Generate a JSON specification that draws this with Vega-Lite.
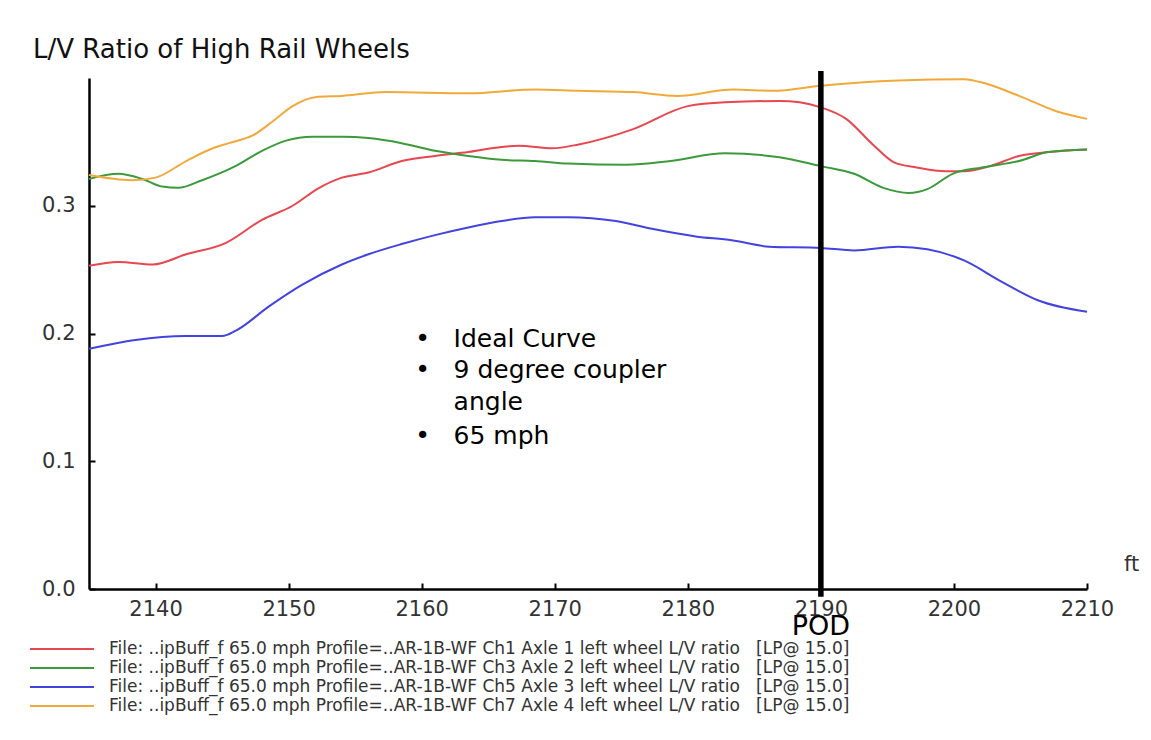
{
  "$schema": "https://vega.github.io/schema/vega-lite/v6.json",
  "width": 998,
  "height": 511,
  "autosize": {"type": "none"},
  "padding": {"left": 89, "top": 78, "right": 64, "bottom": 151},
  "background": "white",
  "config": {"view": {"stroke": null}, "font": "DejaVu Sans"},
  "title": {"text": "L/V Ratio of High Rail Wheels", "anchor": "start", "frame": "group", "dx": -56, "dy": 27, "offset": 11, "fontSize": 26, "fontWeight": "normal", "color": "#111", "baseline": "alphabetic"},
  "datasets": {
    "series": [
      {"s": "File: ..ipBuff_f 65.0 mph Profile=..AR-1B-WF Ch1 Axle 1 left wheel L/V ratio\u00a0\u00a0\u00a0[LP@ 15.0]", "ft": 2135.0, "v": 0.253},
      {"s": "File: ..ipBuff_f 65.0 mph Profile=..AR-1B-WF Ch1 Axle 1 left wheel L/V ratio\u00a0\u00a0\u00a0[LP@ 15.0]", "ft": 2137.2, "v": 0.256},
      {"s": "File: ..ipBuff_f 65.0 mph Profile=..AR-1B-WF Ch1 Axle 1 left wheel L/V ratio\u00a0\u00a0\u00a0[LP@ 15.0]", "ft": 2139.8, "v": 0.254},
      {"s": "File: ..ipBuff_f 65.0 mph Profile=..AR-1B-WF Ch1 Axle 1 left wheel L/V ratio\u00a0\u00a0\u00a0[LP@ 15.0]", "ft": 2142.3, "v": 0.262},
      {"s": "File: ..ipBuff_f 65.0 mph Profile=..AR-1B-WF Ch1 Axle 1 left wheel L/V ratio\u00a0\u00a0\u00a0[LP@ 15.0]", "ft": 2145.3, "v": 0.271},
      {"s": "File: ..ipBuff_f 65.0 mph Profile=..AR-1B-WF Ch1 Axle 1 left wheel L/V ratio\u00a0\u00a0\u00a0[LP@ 15.0]", "ft": 2148.0, "v": 0.289},
      {"s": "File: ..ipBuff_f 65.0 mph Profile=..AR-1B-WF Ch1 Axle 1 left wheel L/V ratio\u00a0\u00a0\u00a0[LP@ 15.0]", "ft": 2150.3, "v": 0.300},
      {"s": "File: ..ipBuff_f 65.0 mph Profile=..AR-1B-WF Ch1 Axle 1 left wheel L/V ratio\u00a0\u00a0\u00a0[LP@ 15.0]", "ft": 2152.3, "v": 0.314},
      {"s": "File: ..ipBuff_f 65.0 mph Profile=..AR-1B-WF Ch1 Axle 1 left wheel L/V ratio\u00a0\u00a0\u00a0[LP@ 15.0]", "ft": 2154.0, "v": 0.322},
      {"s": "File: ..ipBuff_f 65.0 mph Profile=..AR-1B-WF Ch1 Axle 1 left wheel L/V ratio\u00a0\u00a0\u00a0[LP@ 15.0]", "ft": 2156.0, "v": 0.326},
      {"s": "File: ..ipBuff_f 65.0 mph Profile=..AR-1B-WF Ch1 Axle 1 left wheel L/V ratio\u00a0\u00a0\u00a0[LP@ 15.0]", "ft": 2158.5, "v": 0.335},
      {"s": "File: ..ipBuff_f 65.0 mph Profile=..AR-1B-WF Ch1 Axle 1 left wheel L/V ratio\u00a0\u00a0\u00a0[LP@ 15.0]", "ft": 2161.0, "v": 0.339},
      {"s": "File: ..ipBuff_f 65.0 mph Profile=..AR-1B-WF Ch1 Axle 1 left wheel L/V ratio\u00a0\u00a0\u00a0[LP@ 15.0]", "ft": 2163.5, "v": 0.342},
      {"s": "File: ..ipBuff_f 65.0 mph Profile=..AR-1B-WF Ch1 Axle 1 left wheel L/V ratio\u00a0\u00a0\u00a0[LP@ 15.0]", "ft": 2166.0, "v": 0.346},
      {"s": "File: ..ipBuff_f 65.0 mph Profile=..AR-1B-WF Ch1 Axle 1 left wheel L/V ratio\u00a0\u00a0\u00a0[LP@ 15.0]", "ft": 2167.3, "v": 0.347},
      {"s": "File: ..ipBuff_f 65.0 mph Profile=..AR-1B-WF Ch1 Axle 1 left wheel L/V ratio\u00a0\u00a0\u00a0[LP@ 15.0]", "ft": 2169.8, "v": 0.345},
      {"s": "File: ..ipBuff_f 65.0 mph Profile=..AR-1B-WF Ch1 Axle 1 left wheel L/V ratio\u00a0\u00a0\u00a0[LP@ 15.0]", "ft": 2171.8, "v": 0.348},
      {"s": "File: ..ipBuff_f 65.0 mph Profile=..AR-1B-WF Ch1 Axle 1 left wheel L/V ratio\u00a0\u00a0\u00a0[LP@ 15.0]", "ft": 2175.9, "v": 0.360},
      {"s": "File: ..ipBuff_f 65.0 mph Profile=..AR-1B-WF Ch1 Axle 1 left wheel L/V ratio\u00a0\u00a0\u00a0[LP@ 15.0]", "ft": 2180.0, "v": 0.378},
      {"s": "File: ..ipBuff_f 65.0 mph Profile=..AR-1B-WF Ch1 Axle 1 left wheel L/V ratio\u00a0\u00a0\u00a0[LP@ 15.0]", "ft": 2182.8, "v": 0.381},
      {"s": "File: ..ipBuff_f 65.0 mph Profile=..AR-1B-WF Ch1 Axle 1 left wheel L/V ratio\u00a0\u00a0\u00a0[LP@ 15.0]", "ft": 2186.9, "v": 0.382},
      {"s": "File: ..ipBuff_f 65.0 mph Profile=..AR-1B-WF Ch1 Axle 1 left wheel L/V ratio\u00a0\u00a0\u00a0[LP@ 15.0]", "ft": 2188.4, "v": 0.381},
      {"s": "File: ..ipBuff_f 65.0 mph Profile=..AR-1B-WF Ch1 Axle 1 left wheel L/V ratio\u00a0\u00a0\u00a0[LP@ 15.0]", "ft": 2190.0, "v": 0.377},
      {"s": "File: ..ipBuff_f 65.0 mph Profile=..AR-1B-WF Ch1 Axle 1 left wheel L/V ratio\u00a0\u00a0\u00a0[LP@ 15.0]", "ft": 2191.9, "v": 0.368},
      {"s": "File: ..ipBuff_f 65.0 mph Profile=..AR-1B-WF Ch1 Axle 1 left wheel L/V ratio\u00a0\u00a0\u00a0[LP@ 15.0]", "ft": 2193.9, "v": 0.348},
      {"s": "File: ..ipBuff_f 65.0 mph Profile=..AR-1B-WF Ch1 Axle 1 left wheel L/V ratio\u00a0\u00a0\u00a0[LP@ 15.0]", "ft": 2195.5, "v": 0.334},
      {"s": "File: ..ipBuff_f 65.0 mph Profile=..AR-1B-WF Ch1 Axle 1 left wheel L/V ratio\u00a0\u00a0\u00a0[LP@ 15.0]", "ft": 2197.2, "v": 0.330},
      {"s": "File: ..ipBuff_f 65.0 mph Profile=..AR-1B-WF Ch1 Axle 1 left wheel L/V ratio\u00a0\u00a0\u00a0[LP@ 15.0]", "ft": 2199.4, "v": 0.327},
      {"s": "File: ..ipBuff_f 65.0 mph Profile=..AR-1B-WF Ch1 Axle 1 left wheel L/V ratio\u00a0\u00a0\u00a0[LP@ 15.0]", "ft": 2200.8, "v": 0.327},
      {"s": "File: ..ipBuff_f 65.0 mph Profile=..AR-1B-WF Ch1 Axle 1 left wheel L/V ratio\u00a0\u00a0\u00a0[LP@ 15.0]", "ft": 2202.7, "v": 0.331},
      {"s": "File: ..ipBuff_f 65.0 mph Profile=..AR-1B-WF Ch1 Axle 1 left wheel L/V ratio\u00a0\u00a0\u00a0[LP@ 15.0]", "ft": 2204.9, "v": 0.339},
      {"s": "File: ..ipBuff_f 65.0 mph Profile=..AR-1B-WF Ch1 Axle 1 left wheel L/V ratio\u00a0\u00a0\u00a0[LP@ 15.0]", "ft": 2207.1, "v": 0.342},
      {"s": "File: ..ipBuff_f 65.0 mph Profile=..AR-1B-WF Ch1 Axle 1 left wheel L/V ratio\u00a0\u00a0\u00a0[LP@ 15.0]", "ft": 2210.0, "v": 0.344},

      {"s": "File: ..ipBuff_f 65.0 mph Profile=..AR-1B-WF Ch3 Axle 2 left wheel L/V ratio\u00a0\u00a0\u00a0[LP@ 15.0]", "ft": 2135.0, "v": 0.321},
      {"s": "File: ..ipBuff_f 65.0 mph Profile=..AR-1B-WF Ch3 Axle 2 left wheel L/V ratio\u00a0\u00a0\u00a0[LP@ 15.0]", "ft": 2137.2, "v": 0.325},
      {"s": "File: ..ipBuff_f 65.0 mph Profile=..AR-1B-WF Ch3 Axle 2 left wheel L/V ratio\u00a0\u00a0\u00a0[LP@ 15.0]", "ft": 2139.0, "v": 0.321},
      {"s": "File: ..ipBuff_f 65.0 mph Profile=..AR-1B-WF Ch3 Axle 2 left wheel L/V ratio\u00a0\u00a0\u00a0[LP@ 15.0]", "ft": 2140.5, "v": 0.315},
      {"s": "File: ..ipBuff_f 65.0 mph Profile=..AR-1B-WF Ch3 Axle 2 left wheel L/V ratio\u00a0\u00a0\u00a0[LP@ 15.0]", "ft": 2141.7, "v": 0.314},
      {"s": "File: ..ipBuff_f 65.0 mph Profile=..AR-1B-WF Ch3 Axle 2 left wheel L/V ratio\u00a0\u00a0\u00a0[LP@ 15.0]", "ft": 2143.5, "v": 0.320},
      {"s": "File: ..ipBuff_f 65.0 mph Profile=..AR-1B-WF Ch3 Axle 2 left wheel L/V ratio\u00a0\u00a0\u00a0[LP@ 15.0]", "ft": 2146.0, "v": 0.331},
      {"s": "File: ..ipBuff_f 65.0 mph Profile=..AR-1B-WF Ch3 Axle 2 left wheel L/V ratio\u00a0\u00a0\u00a0[LP@ 15.0]", "ft": 2148.0, "v": 0.343},
      {"s": "File: ..ipBuff_f 65.0 mph Profile=..AR-1B-WF Ch3 Axle 2 left wheel L/V ratio\u00a0\u00a0\u00a0[LP@ 15.0]", "ft": 2149.8, "v": 0.351},
      {"s": "File: ..ipBuff_f 65.0 mph Profile=..AR-1B-WF Ch3 Axle 2 left wheel L/V ratio\u00a0\u00a0\u00a0[LP@ 15.0]", "ft": 2151.8, "v": 0.354},
      {"s": "File: ..ipBuff_f 65.0 mph Profile=..AR-1B-WF Ch3 Axle 2 left wheel L/V ratio\u00a0\u00a0\u00a0[LP@ 15.0]", "ft": 2154.0, "v": 0.354},
      {"s": "File: ..ipBuff_f 65.0 mph Profile=..AR-1B-WF Ch3 Axle 2 left wheel L/V ratio\u00a0\u00a0\u00a0[LP@ 15.0]", "ft": 2156.0, "v": 0.353},
      {"s": "File: ..ipBuff_f 65.0 mph Profile=..AR-1B-WF Ch3 Axle 2 left wheel L/V ratio\u00a0\u00a0\u00a0[LP@ 15.0]", "ft": 2158.5, "v": 0.349},
      {"s": "File: ..ipBuff_f 65.0 mph Profile=..AR-1B-WF Ch3 Axle 2 left wheel L/V ratio\u00a0\u00a0\u00a0[LP@ 15.0]", "ft": 2161.0, "v": 0.343},
      {"s": "File: ..ipBuff_f 65.0 mph Profile=..AR-1B-WF Ch3 Axle 2 left wheel L/V ratio\u00a0\u00a0\u00a0[LP@ 15.0]", "ft": 2163.5, "v": 0.339},
      {"s": "File: ..ipBuff_f 65.0 mph Profile=..AR-1B-WF Ch3 Axle 2 left wheel L/V ratio\u00a0\u00a0\u00a0[LP@ 15.0]", "ft": 2166.0, "v": 0.336},
      {"s": "File: ..ipBuff_f 65.0 mph Profile=..AR-1B-WF Ch3 Axle 2 left wheel L/V ratio\u00a0\u00a0\u00a0[LP@ 15.0]", "ft": 2168.5, "v": 0.335},
      {"s": "File: ..ipBuff_f 65.0 mph Profile=..AR-1B-WF Ch3 Axle 2 left wheel L/V ratio\u00a0\u00a0\u00a0[LP@ 15.0]", "ft": 2171.0, "v": 0.333},
      {"s": "File: ..ipBuff_f 65.0 mph Profile=..AR-1B-WF Ch3 Axle 2 left wheel L/V ratio\u00a0\u00a0\u00a0[LP@ 15.0]", "ft": 2175.4, "v": 0.332},
      {"s": "File: ..ipBuff_f 65.0 mph Profile=..AR-1B-WF Ch3 Axle 2 left wheel L/V ratio\u00a0\u00a0\u00a0[LP@ 15.0]", "ft": 2178.7, "v": 0.335},
      {"s": "File: ..ipBuff_f 65.0 mph Profile=..AR-1B-WF Ch3 Axle 2 left wheel L/V ratio\u00a0\u00a0\u00a0[LP@ 15.0]", "ft": 2182.8, "v": 0.341},
      {"s": "File: ..ipBuff_f 65.0 mph Profile=..AR-1B-WF Ch3 Axle 2 left wheel L/V ratio\u00a0\u00a0\u00a0[LP@ 15.0]", "ft": 2186.9, "v": 0.338},
      {"s": "File: ..ipBuff_f 65.0 mph Profile=..AR-1B-WF Ch3 Axle 2 left wheel L/V ratio\u00a0\u00a0\u00a0[LP@ 15.0]", "ft": 2190.0, "v": 0.331},
      {"s": "File: ..ipBuff_f 65.0 mph Profile=..AR-1B-WF Ch3 Axle 2 left wheel L/V ratio\u00a0\u00a0\u00a0[LP@ 15.0]", "ft": 2192.5, "v": 0.325},
      {"s": "File: ..ipBuff_f 65.0 mph Profile=..AR-1B-WF Ch3 Axle 2 left wheel L/V ratio\u00a0\u00a0\u00a0[LP@ 15.0]", "ft": 2194.7, "v": 0.314},
      {"s": "File: ..ipBuff_f 65.0 mph Profile=..AR-1B-WF Ch3 Axle 2 left wheel L/V ratio\u00a0\u00a0\u00a0[LP@ 15.0]", "ft": 2196.6, "v": 0.310},
      {"s": "File: ..ipBuff_f 65.0 mph Profile=..AR-1B-WF Ch3 Axle 2 left wheel L/V ratio\u00a0\u00a0\u00a0[LP@ 15.0]", "ft": 2198.0, "v": 0.313},
      {"s": "File: ..ipBuff_f 65.0 mph Profile=..AR-1B-WF Ch3 Axle 2 left wheel L/V ratio\u00a0\u00a0\u00a0[LP@ 15.0]", "ft": 2199.9, "v": 0.325},
      {"s": "File: ..ipBuff_f 65.0 mph Profile=..AR-1B-WF Ch3 Axle 2 left wheel L/V ratio\u00a0\u00a0\u00a0[LP@ 15.0]", "ft": 2202.1, "v": 0.330},
      {"s": "File: ..ipBuff_f 65.0 mph Profile=..AR-1B-WF Ch3 Axle 2 left wheel L/V ratio\u00a0\u00a0\u00a0[LP@ 15.0]", "ft": 2204.9, "v": 0.335},
      {"s": "File: ..ipBuff_f 65.0 mph Profile=..AR-1B-WF Ch3 Axle 2 left wheel L/V ratio\u00a0\u00a0\u00a0[LP@ 15.0]", "ft": 2207.1, "v": 0.342},
      {"s": "File: ..ipBuff_f 65.0 mph Profile=..AR-1B-WF Ch3 Axle 2 left wheel L/V ratio\u00a0\u00a0\u00a0[LP@ 15.0]", "ft": 2210.0, "v": 0.344},

      {"s": "File: ..ipBuff_f 65.0 mph Profile=..AR-1B-WF Ch5 Axle 3 left wheel L/V ratio\u00a0\u00a0\u00a0[LP@ 15.0]", "ft": 2135.0, "v": 0.188},
      {"s": "File: ..ipBuff_f 65.0 mph Profile=..AR-1B-WF Ch5 Axle 3 left wheel L/V ratio\u00a0\u00a0\u00a0[LP@ 15.0]", "ft": 2138.5, "v": 0.195},
      {"s": "File: ..ipBuff_f 65.0 mph Profile=..AR-1B-WF Ch5 Axle 3 left wheel L/V ratio\u00a0\u00a0\u00a0[LP@ 15.0]", "ft": 2142.3, "v": 0.198},
      {"s": "File: ..ipBuff_f 65.0 mph Profile=..AR-1B-WF Ch5 Axle 3 left wheel L/V ratio\u00a0\u00a0\u00a0[LP@ 15.0]", "ft": 2145.0, "v": 0.198},
      {"s": "File: ..ipBuff_f 65.0 mph Profile=..AR-1B-WF Ch5 Axle 3 left wheel L/V ratio\u00a0\u00a0\u00a0[LP@ 15.0]", "ft": 2146.0, "v": 0.202},
      {"s": "File: ..ipBuff_f 65.0 mph Profile=..AR-1B-WF Ch5 Axle 3 left wheel L/V ratio\u00a0\u00a0\u00a0[LP@ 15.0]", "ft": 2148.5, "v": 0.221},
      {"s": "File: ..ipBuff_f 65.0 mph Profile=..AR-1B-WF Ch5 Axle 3 left wheel L/V ratio\u00a0\u00a0\u00a0[LP@ 15.0]", "ft": 2151.0, "v": 0.238},
      {"s": "File: ..ipBuff_f 65.0 mph Profile=..AR-1B-WF Ch5 Axle 3 left wheel L/V ratio\u00a0\u00a0\u00a0[LP@ 15.0]", "ft": 2154.0, "v": 0.254},
      {"s": "File: ..ipBuff_f 65.0 mph Profile=..AR-1B-WF Ch5 Axle 3 left wheel L/V ratio\u00a0\u00a0\u00a0[LP@ 15.0]", "ft": 2156.0, "v": 0.262},
      {"s": "File: ..ipBuff_f 65.0 mph Profile=..AR-1B-WF Ch5 Axle 3 left wheel L/V ratio\u00a0\u00a0\u00a0[LP@ 15.0]", "ft": 2158.5, "v": 0.270},
      {"s": "File: ..ipBuff_f 65.0 mph Profile=..AR-1B-WF Ch5 Axle 3 left wheel L/V ratio\u00a0\u00a0\u00a0[LP@ 15.0]", "ft": 2161.0, "v": 0.277},
      {"s": "File: ..ipBuff_f 65.0 mph Profile=..AR-1B-WF Ch5 Axle 3 left wheel L/V ratio\u00a0\u00a0\u00a0[LP@ 15.0]", "ft": 2163.5, "v": 0.283},
      {"s": "File: ..ipBuff_f 65.0 mph Profile=..AR-1B-WF Ch5 Axle 3 left wheel L/V ratio\u00a0\u00a0\u00a0[LP@ 15.0]", "ft": 2166.0, "v": 0.288},
      {"s": "File: ..ipBuff_f 65.0 mph Profile=..AR-1B-WF Ch5 Axle 3 left wheel L/V ratio\u00a0\u00a0\u00a0[LP@ 15.0]", "ft": 2168.5, "v": 0.291},
      {"s": "File: ..ipBuff_f 65.0 mph Profile=..AR-1B-WF Ch5 Axle 3 left wheel L/V ratio\u00a0\u00a0\u00a0[LP@ 15.0]", "ft": 2171.0, "v": 0.291},
      {"s": "File: ..ipBuff_f 65.0 mph Profile=..AR-1B-WF Ch5 Axle 3 left wheel L/V ratio\u00a0\u00a0\u00a0[LP@ 15.0]", "ft": 2174.6, "v": 0.288},
      {"s": "File: ..ipBuff_f 65.0 mph Profile=..AR-1B-WF Ch5 Axle 3 left wheel L/V ratio\u00a0\u00a0\u00a0[LP@ 15.0]", "ft": 2177.3, "v": 0.282},
      {"s": "File: ..ipBuff_f 65.0 mph Profile=..AR-1B-WF Ch5 Axle 3 left wheel L/V ratio\u00a0\u00a0\u00a0[LP@ 15.0]", "ft": 2180.6, "v": 0.276},
      {"s": "File: ..ipBuff_f 65.0 mph Profile=..AR-1B-WF Ch5 Axle 3 left wheel L/V ratio\u00a0\u00a0\u00a0[LP@ 15.0]", "ft": 2183.3, "v": 0.273},
      {"s": "File: ..ipBuff_f 65.0 mph Profile=..AR-1B-WF Ch5 Axle 3 left wheel L/V ratio\u00a0\u00a0\u00a0[LP@ 15.0]", "ft": 2186.1, "v": 0.268},
      {"s": "File: ..ipBuff_f 65.0 mph Profile=..AR-1B-WF Ch5 Axle 3 left wheel L/V ratio\u00a0\u00a0\u00a0[LP@ 15.0]", "ft": 2190.0, "v": 0.267},
      {"s": "File: ..ipBuff_f 65.0 mph Profile=..AR-1B-WF Ch5 Axle 3 left wheel L/V ratio\u00a0\u00a0\u00a0[LP@ 15.0]", "ft": 2192.5, "v": 0.265},
      {"s": "File: ..ipBuff_f 65.0 mph Profile=..AR-1B-WF Ch5 Axle 3 left wheel L/V ratio\u00a0\u00a0\u00a0[LP@ 15.0]", "ft": 2195.8, "v": 0.268},
      {"s": "File: ..ipBuff_f 65.0 mph Profile=..AR-1B-WF Ch5 Axle 3 left wheel L/V ratio\u00a0\u00a0\u00a0[LP@ 15.0]", "ft": 2198.0, "v": 0.266},
      {"s": "File: ..ipBuff_f 65.0 mph Profile=..AR-1B-WF Ch5 Axle 3 left wheel L/V ratio\u00a0\u00a0\u00a0[LP@ 15.0]", "ft": 2200.8, "v": 0.257},
      {"s": "File: ..ipBuff_f 65.0 mph Profile=..AR-1B-WF Ch5 Axle 3 left wheel L/V ratio\u00a0\u00a0\u00a0[LP@ 15.0]", "ft": 2203.5, "v": 0.241},
      {"s": "File: ..ipBuff_f 65.0 mph Profile=..AR-1B-WF Ch5 Axle 3 left wheel L/V ratio\u00a0\u00a0\u00a0[LP@ 15.0]", "ft": 2206.3, "v": 0.226},
      {"s": "File: ..ipBuff_f 65.0 mph Profile=..AR-1B-WF Ch5 Axle 3 left wheel L/V ratio\u00a0\u00a0\u00a0[LP@ 15.0]", "ft": 2210.0, "v": 0.217},

      {"s": "File: ..ipBuff_f 65.0 mph Profile=..AR-1B-WF Ch7 Axle 4 left wheel L/V ratio\u00a0\u00a0\u00a0[LP@ 15.0]", "ft": 2135.0, "v": 0.324},
      {"s": "File: ..ipBuff_f 65.0 mph Profile=..AR-1B-WF Ch7 Axle 4 left wheel L/V ratio\u00a0\u00a0\u00a0[LP@ 15.0]", "ft": 2138.2, "v": 0.320},
      {"s": "File: ..ipBuff_f 65.0 mph Profile=..AR-1B-WF Ch7 Axle 4 left wheel L/V ratio\u00a0\u00a0\u00a0[LP@ 15.0]", "ft": 2140.0, "v": 0.322},
      {"s": "File: ..ipBuff_f 65.0 mph Profile=..AR-1B-WF Ch7 Axle 4 left wheel L/V ratio\u00a0\u00a0\u00a0[LP@ 15.0]", "ft": 2142.3, "v": 0.335},
      {"s": "File: ..ipBuff_f 65.0 mph Profile=..AR-1B-WF Ch7 Axle 4 left wheel L/V ratio\u00a0\u00a0\u00a0[LP@ 15.0]", "ft": 2144.3, "v": 0.345},
      {"s": "File: ..ipBuff_f 65.0 mph Profile=..AR-1B-WF Ch7 Axle 4 left wheel L/V ratio\u00a0\u00a0\u00a0[LP@ 15.0]", "ft": 2145.5, "v": 0.349},
      {"s": "File: ..ipBuff_f 65.0 mph Profile=..AR-1B-WF Ch7 Axle 4 left wheel L/V ratio\u00a0\u00a0\u00a0[LP@ 15.0]", "ft": 2147.3, "v": 0.355},
      {"s": "File: ..ipBuff_f 65.0 mph Profile=..AR-1B-WF Ch7 Axle 4 left wheel L/V ratio\u00a0\u00a0\u00a0[LP@ 15.0]", "ft": 2148.8, "v": 0.366},
      {"s": "File: ..ipBuff_f 65.0 mph Profile=..AR-1B-WF Ch7 Axle 4 left wheel L/V ratio\u00a0\u00a0\u00a0[LP@ 15.0]", "ft": 2150.3, "v": 0.378},
      {"s": "File: ..ipBuff_f 65.0 mph Profile=..AR-1B-WF Ch7 Axle 4 left wheel L/V ratio\u00a0\u00a0\u00a0[LP@ 15.0]", "ft": 2152.0, "v": 0.385},
      {"s": "File: ..ipBuff_f 65.0 mph Profile=..AR-1B-WF Ch7 Axle 4 left wheel L/V ratio\u00a0\u00a0\u00a0[LP@ 15.0]", "ft": 2154.0, "v": 0.386},
      {"s": "File: ..ipBuff_f 65.0 mph Profile=..AR-1B-WF Ch7 Axle 4 left wheel L/V ratio\u00a0\u00a0\u00a0[LP@ 15.0]", "ft": 2157.3, "v": 0.389},
      {"s": "File: ..ipBuff_f 65.0 mph Profile=..AR-1B-WF Ch7 Axle 4 left wheel L/V ratio\u00a0\u00a0\u00a0[LP@ 15.0]", "ft": 2163.5, "v": 0.388},
      {"s": "File: ..ipBuff_f 65.0 mph Profile=..AR-1B-WF Ch7 Axle 4 left wheel L/V ratio\u00a0\u00a0\u00a0[LP@ 15.0]", "ft": 2168.5, "v": 0.391},
      {"s": "File: ..ipBuff_f 65.0 mph Profile=..AR-1B-WF Ch7 Axle 4 left wheel L/V ratio\u00a0\u00a0\u00a0[LP@ 15.0]", "ft": 2171.8, "v": 0.390},
      {"s": "File: ..ipBuff_f 65.0 mph Profile=..AR-1B-WF Ch7 Axle 4 left wheel L/V ratio\u00a0\u00a0\u00a0[LP@ 15.0]", "ft": 2175.9, "v": 0.389},
      {"s": "File: ..ipBuff_f 65.0 mph Profile=..AR-1B-WF Ch7 Axle 4 left wheel L/V ratio\u00a0\u00a0\u00a0[LP@ 15.0]", "ft": 2179.2, "v": 0.386},
      {"s": "File: ..ipBuff_f 65.0 mph Profile=..AR-1B-WF Ch7 Axle 4 left wheel L/V ratio\u00a0\u00a0\u00a0[LP@ 15.0]", "ft": 2183.4, "v": 0.391},
      {"s": "File: ..ipBuff_f 65.0 mph Profile=..AR-1B-WF Ch7 Axle 4 left wheel L/V ratio\u00a0\u00a0\u00a0[LP@ 15.0]", "ft": 2186.4, "v": 0.390},
      {"s": "File: ..ipBuff_f 65.0 mph Profile=..AR-1B-WF Ch7 Axle 4 left wheel L/V ratio\u00a0\u00a0\u00a0[LP@ 15.0]", "ft": 2190.0, "v": 0.394},
      {"s": "File: ..ipBuff_f 65.0 mph Profile=..AR-1B-WF Ch7 Axle 4 left wheel L/V ratio\u00a0\u00a0\u00a0[LP@ 15.0]", "ft": 2195.8, "v": 0.398},
      {"s": "File: ..ipBuff_f 65.0 mph Profile=..AR-1B-WF Ch7 Axle 4 left wheel L/V ratio\u00a0\u00a0\u00a0[LP@ 15.0]", "ft": 2200.8, "v": 0.399},
      {"s": "File: ..ipBuff_f 65.0 mph Profile=..AR-1B-WF Ch7 Axle 4 left wheel L/V ratio\u00a0\u00a0\u00a0[LP@ 15.0]", "ft": 2201.9, "v": 0.397},
      {"s": "File: ..ipBuff_f 65.0 mph Profile=..AR-1B-WF Ch7 Axle 4 left wheel L/V ratio\u00a0\u00a0\u00a0[LP@ 15.0]", "ft": 2204.9, "v": 0.386},
      {"s": "File: ..ipBuff_f 65.0 mph Profile=..AR-1B-WF Ch7 Axle 4 left wheel L/V ratio\u00a0\u00a0\u00a0[LP@ 15.0]", "ft": 2207.7, "v": 0.374},
      {"s": "File: ..ipBuff_f 65.0 mph Profile=..AR-1B-WF Ch7 Axle 4 left wheel L/V ratio\u00a0\u00a0\u00a0[LP@ 15.0]", "ft": 2210.0, "v": 0.368}
    ],
    "pod": [{"ft": 2190, "v": -0.006, "v2": 0.4055, "t": "POD", "tv": -0.036}],
    "notes": [
      {"ft": 2162.4, "v": 0.1898, "b": "•", "t": "Ideal Curve"},
      {"ft": 2162.4, "v": 0.1651, "b": "•", "t": "9 degree coupler"},
      {"ft": 2162.4, "v": 0.1398, "b": "", "t": "angle"},
      {"ft": 2162.4, "v": 0.1138, "b": "•", "t": "65 mph"}
    ]
  },
  "encoding": {
    "x": {
      "field": "ft", "type": "quantitative",
      "scale": {"domain": [2135, 2210], "nice": false, "zero": false},
      "axis": {
        "values": [2140, 2150, 2160, 2170, 2180, 2190, 2200, 2210],
        "format": "d", "title": "ft",
        "titleX": 1042, "titleY": -19, "titleAlign": "center", "titleBaseline": "alphabetic",
        "titleFontSize": 21, "titleFontWeight": "normal", "titleColor": "#333",
        "domainColor": "black", "domainWidth": 2.5,
        "tickColor": "black", "tickWidth": 2, "tickSize": -6,
        "labelFontSize": 21, "labelColor": "#333", "labelPadding": 15,
        "labelFlush": false, "labelOverlap": false, "grid": false
      }
    },
    "y": {
      "field": "v", "type": "quantitative",
      "scale": {"domain": [0, 0.4], "nice": false, "zero": false},
      "axis": {
        "values": [0, 0.1, 0.2, 0.3], "format": ".1f", "title": null,
        "domainColor": "black", "domainWidth": 2.5,
        "tickColor": "black", "tickWidth": 2, "tickSize": -6,
        "labelFontSize": 21, "labelColor": "#333", "labelPadding": 20, "grid": false
      }
    }
  },
  "layer": [
    {
      "data": {"name": "series"},
      "mark": {"type": "line", "interpolate": "monotone", "strokeWidth": 2},
      "encoding": {
        "color": {
          "field": "s", "type": "nominal",
          "scale": {
            "domain": [
              "File: ..ipBuff_f 65.0 mph Profile=..AR-1B-WF Ch1 Axle 1 left wheel L/V ratio\u00a0\u00a0\u00a0[LP@ 15.0]",
              "File: ..ipBuff_f 65.0 mph Profile=..AR-1B-WF Ch3 Axle 2 left wheel L/V ratio\u00a0\u00a0\u00a0[LP@ 15.0]",
              "File: ..ipBuff_f 65.0 mph Profile=..AR-1B-WF Ch5 Axle 3 left wheel L/V ratio\u00a0\u00a0\u00a0[LP@ 15.0]",
              "File: ..ipBuff_f 65.0 mph Profile=..AR-1B-WF Ch7 Axle 4 left wheel L/V ratio\u00a0\u00a0\u00a0[LP@ 15.0]"
            ],
            "range": ["#e8474f", "#3c9a3c", "#4343e0", "#f2a93b"]
          },
          "legend": {
            "orient": "none", "legendX": -36, "legendY": 562, "title": null,
            "direction": "vertical",
            "symbolType": "M-4,0H4", "symbolSize": 256, "symbolStrokeWidth": 2,
            "labelFontSize": 17, "labelColor": "#333", "labelOffset": 38, "labelLimit": 1000,
            "rowPadding": 2
          }
        }
      }
    },
    {
      "data": {"name": "pod"},
      "mark": {"type": "rule", "strokeWidth": 5.5, "color": "black"},
      "encoding": {"y2": {"field": "v2"}}
    },
    {
      "data": {"name": "pod"},
      "mark": {"type": "text", "fontSize": 27, "align": "center", "baseline": "alphabetic", "color": "black"},
      "encoding": {"y": {"field": "tv", "type": "quantitative"}, "text": {"field": "t"}}
    },
    {
      "data": {"name": "notes"},
      "mark": {"type": "text", "fontSize": 25, "align": "left", "baseline": "alphabetic", "color": "black"},
      "encoding": {"text": {"field": "t"}}
    },
    {
      "data": {"name": "notes"},
      "mark": {"type": "text", "fontSize": 25, "align": "center", "baseline": "alphabetic", "color": "black", "dx": -31},
      "encoding": {"text": {"field": "b"}}
    }
  ]
}
